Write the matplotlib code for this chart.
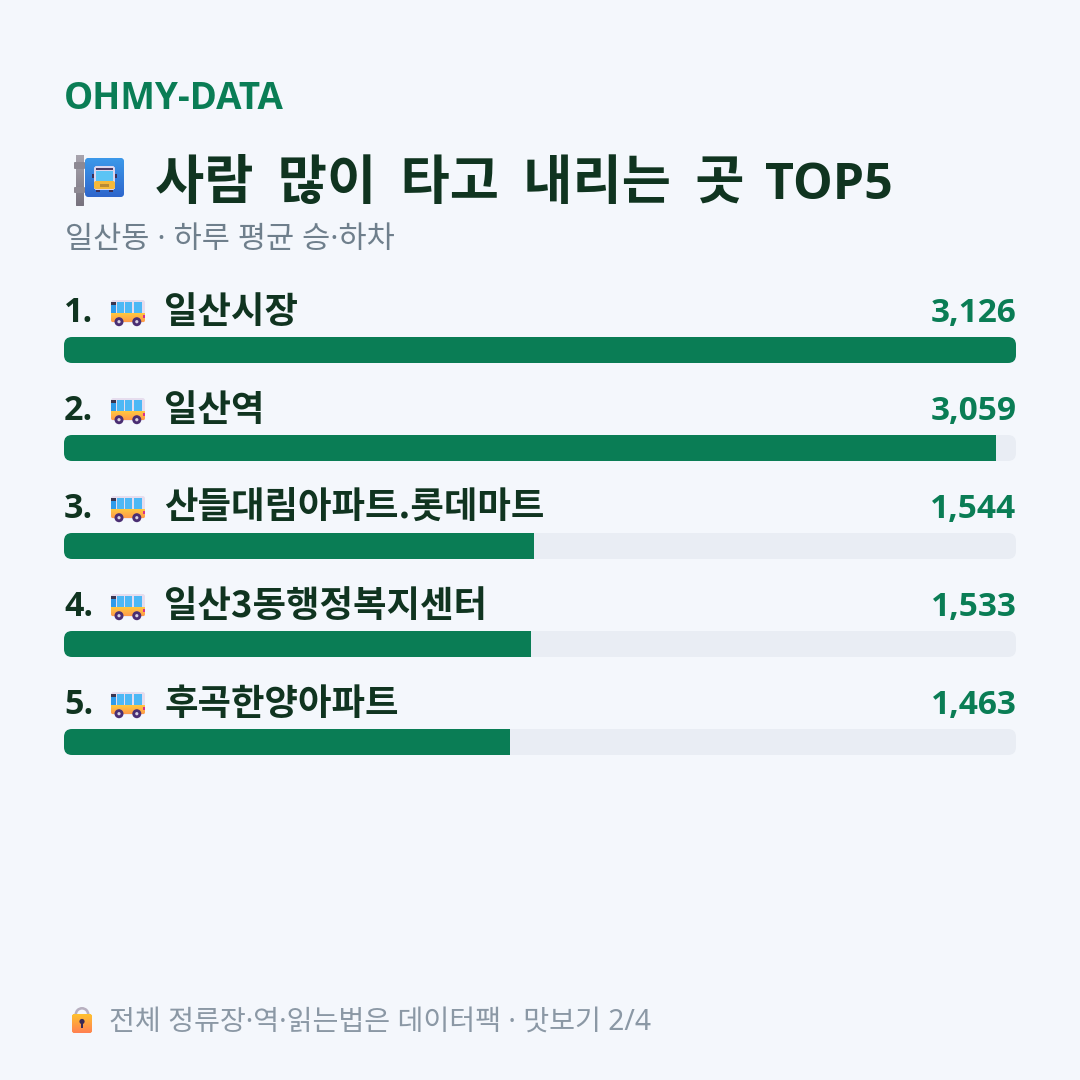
import matplotlib
matplotlib.use("Agg")
import matplotlib.pyplot as plt
import numpy as np
from matplotlib.patches import FancyBboxPatch, Rectangle, Circle, Wedge
from matplotlib.colors import LinearSegmentedColormap

stations = ["일산시장", "일산역", "산들대림아파트.롯데마트", "일산3동행정복지센터", "후곡한양아파트"]
ridership = [3126, 3059, 1544, 1533, 1463]
value_labels = ["3,126", "3,059", "1,544", "1,533", "1,463"]

BG = "#F4F7FC"
GREEN = "#0A7D55"
INK = "#103420"
TRACK = "#E9EDF4"
KR = ["Noto Sans CJK KR", "DejaVu Sans"]
LATIN = ["Open Sans", "Noto Sans CJK KR"]
BODY = ["Noto Sans", "Noto Sans CJK KR"]
plt.rcParams["font.family"] = KR

fig = plt.figure(figsize=(10.8, 10.8), dpi=100, facecolor=BG)

# Overlay in page pixels (origin top-left) for text and icons
pg = fig.add_axes([0, 0, 1, 1], zorder=2)
pg.set_xlim(0, 1080)
pg.set_ylim(1080, 0)
pg.axis("off")

# Bar axes spans the track width; x is in riders, y in page pixels
ax = fig.add_axes([64 / 1080, 0, 952 / 1080, 1], zorder=1)
ax.set_xlim(0, max(ridership))
ax.set_ylim(1080, 0)
ax.axis("off")


def px(size):
    return size * 0.72


def text(x, y, s, size, color, weight="normal", ha="left", family=KR):
    return pg.text(x, y, s, fontsize=px(size), color=color, fontweight=weight,
                   ha=ha, va="baseline", family=family)


def gradient(x0, y0, x1, y1, c_top, c_bot, clip=None, z=3):
    cmap = LinearSegmentedColormap.from_list("g", [c_top, c_bot])
    im = pg.imshow(np.linspace(0, 1, 64)[:, None], extent=(x0, x1, y1, y0), cmap=cmap,
                   aspect="auto", zorder=z, interpolation="bilinear")
    if clip is not None:
        im.set_clip_path(clip)
    pg.set_xlim(0, 1080)
    pg.set_ylim(1080, 0)
    return im


def rbox(x0, y0, x1, y1, r, fc="none", z=3):
    b = FancyBboxPatch((x0 + r, y0 + r), x1 - x0 - 2 * r, y1 - y0 - 2 * r,
                       boxstyle=f"round,pad={r},rounding_size={r}",
                       fc=fc, ec="none", zorder=z, lw=0)
    pg.add_patch(b)
    return b


def bus_icon(x, y):
    """Side-view bus, 34 px wide, top-left at (x, y)."""
    body = rbox(x, y, x + 34, y + 22.5, 2.5, fc="#E6DDEE", z=3)
    gradient(x, y + 13.5, x + 34, y + 22.5, "#FFC93E", "#FF9A4A", clip=body, z=3.1)
    for wx, w in ((x + 6, 6.5), (x + 14, 7), (x + 23, 7.5)):
        pg.add_patch(Rectangle((wx, y + 2), w, 11, fc="#4DB8F5", ec="none", zorder=3.2))
    pg.add_patch(Rectangle((x, y + 2), 5, 2.5, fc="#3A3550", ec="none", zorder=3.2))
    pg.add_patch(Rectangle((x, y + 5), 5, 8, fc="#2E9BEA", ec="none", zorder=3.2))
    pg.add_patch(Rectangle((x + 32.3, y + 15), 1.7, 3, fc="#D8308A", ec="none", zorder=3.3))
    for cx in (x + 8, x + 25.8):
        pg.add_patch(Circle((cx, y + 21.7), 4.5, fc="#4A2E73", ec="none", zorder=3.4))
        pg.add_patch(Circle((cx, y + 21.7), 1.6, fc="#D9D2E2", ec="none", zorder=3.5))


def stop_icon():
    """Bus-stop sign on a post, next to the headline."""
    post = gradient(76, 155, 84, 206, "#A9A5AE", "#77727E", z=3)
    post.set_clip_path(rbox(76, 155, 84, 206, 1, fc="#8D8993", z=2.9))
    pg.add_patch(rbox(74, 162, 85, 169, 1.5, fc="#8D8993", z=3.1))
    pg.add_patch(rbox(74, 187, 85, 193, 1.5, fc="#8D8993", z=3.1))
    sign = rbox(85, 158, 124, 197, 4, fc="#3A8FE3", z=3.2)
    gradient(85, 158, 124, 197, "#3C99EA", "#2E66CC", clip=sign, z=3.3)
    pg.add_patch(rbox(94, 166, 115, 190, 3, fc="#DCD6EE", z=3.4))
    pg.add_patch(Rectangle((96, 168), 17, 2, fc="#4A3B66", ec="none", zorder=3.5))
    pg.add_patch(Rectangle((96, 171), 17, 9.5, fc="#5CC4F5", ec="none", zorder=3.5))
    rbox(94, 181, 115, 189, 2, fc="#F5B93A", z=3.5)
    pg.add_patch(Rectangle((100, 183.5), 9, 3, fc="#B98A35", ec="none", zorder=3.6))
    pg.add_patch(Rectangle((96, 189), 4, 3, fc="#3C2F57", ec="none", zorder=3.3))
    pg.add_patch(Rectangle((109, 189), 4, 3, fc="#3C2F57", ec="none", zorder=3.3))
    pg.add_patch(Rectangle((92, 174), 2, 4, fc="#3C2F57", ec="none", zorder=3.5))
    pg.add_patch(Rectangle((115, 174), 2, 4, fc="#3C2F57", ec="none", zorder=3.5))


def lock_icon():
    """Small padlock in front of the footer note."""
    pg.add_patch(Wedge((82, 1014.5), 7.5, 180, 360, width=2.6, fc="#B8B0C0", ec="none", zorder=3))
    body = rbox(72, 1014, 92, 1033, 2.5, fc="#FFB02E", z=3.1)
    gradient(72, 1014, 92, 1033, "#FFC22E", "#FF8052", clip=body, z=3.2)
    pg.add_patch(Circle((82, 1021.5), 2.6, fc="#3A2A55", ec="none", zorder=3.3))
    pg.add_patch(Rectangle((81, 1022), 2, 6, fc="#3A2A55", ec="none", zorder=3.3))


# Header
text(64, 109, "OHMY-DATA", 36.7, GREEN, "bold", family=LATIN)
stop_icon()
text(155, 199, "사람  많이  타고  내리는  곳", 53.5, INK, "bold")
text(765, 199, "TOP5", 50, INK, "bold", family=LATIN)
text(65, 248, "일산동 · 하루 평균 승·하차", 30.6, "#6F7F8C", family=BODY)

# Ranked rows
ROW0, STEP, BAR_H = 337, 98, 26
for i, (name, val, lab) in enumerate(zip(stations, ridership, value_labels)):
    top = ROW0 + i * STEP
    track = FancyBboxPatch((64 + 8, top + 8), 952 - 16, BAR_H - 16,
                           boxstyle="round,pad=8,rounding_size=8",
                           fc=TRACK, ec="none", lw=0, zorder=1)
    ax.add_patch(track)
    track.set_transform(pg.transData)
    bars = ax.barh(top + BAR_H / 2, val, height=BAR_H, left=0, color=GREEN, zorder=2)
    bars[0].set_clip_path(track)

    base = top - 16
    text(64, base + 1, f"{i + 1}.", 34, INK, "bold", family=LATIN)
    bus_icon(111, base - 21)
    text(164, base + 2, name, 36.4, INK, "bold")
    text(1016.5, base + 1, lab, 33.4, GREEN, "bold", ha="right", family=LATIN)

# Footer
lock_icon()
text(109, 1030, "전체 정류장·역·읽는법은 데이터팩 · 맛보기 2/4", 28.2, "#8B98A5", family=BODY)

fig.savefig("out.png", dpi=100, facecolor=BG)
